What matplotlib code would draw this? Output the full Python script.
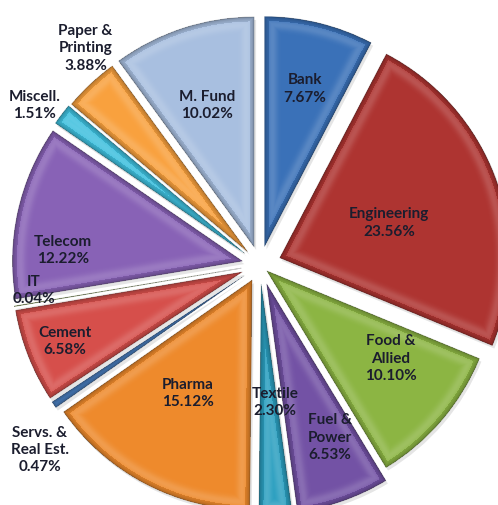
import numpy as np
import matplotlib
matplotlib.use("Agg")
import matplotlib.pyplot as plt

W_PX, H_PX = 498, 505

sectors = ["Bank", "Engineering", "Food &\nAllied", "Fuel &\nPower", "Textile",
           "Pharma", "Servs. &\nReal Est.", "Cement", "IT", "Telecom",
           "Miscell.", "Paper &\nPrinting", "M. Fund"]
shares = [7.67, 23.56, 10.10, 6.53, 2.30, 15.12, 0.47, 6.58, 0.04, 12.22,
          1.51, 3.88, 10.02]
colors = ["#3a71b8", "#ae3431", "#8cb543", "#7352a5", "#2b9fc0",
          "#ee8a2c", "#4a7fc0", "#d64f4b", "#9bbb59", "#8862b6",
          "#3fc0de", "#f9a13e", "#a8bfe0"]

# how far each slice is pulled out (px)
explode = [19, 21, 9, 20, 19, 17, 19, 19, 19, 18, 19, 18, 19]

# label placement: fraction of radius and angle nudge (deg) from wedge middle
label_dist = [0.79, 0.59, 0.70, 0.81, 0.60, 0.64, 1.25, 0.91, 0.99, 0.86,
              1.20, 1.21, 0.73]
label_nudge = [-0.5, -2, 5, 2.6, 2.6, -1.6, 5.9, 0, -3.1, 8.4, 2, -4.2, 0.4]

CX, CY = 260, H_PX - 265
R = 230

fig = plt.figure(figsize=(W_PX / 100, H_PX / 100), dpi=100)
ax = fig.add_axes([0, 0, 1, 1])

wedges, _ = ax.pie(shares, colors=colors, startangle=90, counterclock=False,
                   radius=R, center=(CX, CY), explode=explode,
                   wedgeprops=dict(linewidth=0.6, edgecolor="#00000033"))

# soft drop shadow behind each slice
for w in wedges:
    sh = plt.matplotlib.patches.Wedge((w.center[0] + 2, w.center[1] - 3), w.r,
                                      w.theta1, w.theta2, facecolor="#000000",
                                      alpha=0.10, linewidth=0, zorder=0.5)
    ax.add_patch(sh)

# bevel-like shading: darken close to each slice outline, light band inside
xs = np.arange(W_PX) + 0.5
ys = np.arange(H_PX) + 0.5
X, Y = np.meshgrid(xs, ys)
overlay = np.zeros((H_PX, W_PX, 4))
for w in wedges:
    wx, wy = w.center
    dx, dy = X - wx, Y - wy
    r = np.hypot(dx, dy)
    phi = np.degrees(np.arctan2(dy, dx))
    t1, t2 = w.theta1, w.theta2
    a1 = (phi - t1) % 360
    span = (t2 - t1) % 360 or 360
    inside = (r <= w.r) & (a1 <= span)
    d_arc = w.r - r
    d1 = r * np.sin(np.radians(np.clip(a1, 0, 90)))
    d2 = r * np.sin(np.radians(np.clip(span - a1, 0, 90)))
    d = np.minimum(d_arc, np.minimum(d1, d2))
    dark = 0.30 * np.exp(-np.clip(d, 0, None) / 4.0)
    light = 0.16 * np.exp(-((d - 8) / 5.0) ** 2)
    a = np.where(inside, np.maximum(dark, light), 0)
    rgb = np.where((dark >= light)[..., None], 0.0, 1.0)
    m = inside & (a > overlay[..., 3])
    overlay[m, :3] = rgb[m]
    overlay[m, 3] = a[m]

ax.imshow(overlay, extent=(0, W_PX, 0, H_PX), origin="lower",
          interpolation="bilinear", zorder=3)

for w, name, val, dist, nud in zip(wedges, sectors, shares, label_dist, label_nudge):
    mid = np.radians((w.theta1 + w.theta2) / 2 + nud)
    tx = CX + dist * R * np.cos(mid)
    ty = CY + dist * R * np.sin(mid)
    ax.text(tx, ty, f"{name}\n{val:.2f}%", ha="center", va="center",
            fontsize=11, fontweight="bold", family=["Lato", "DejaVu Sans"],
            color="#1b1d2e", linespacing=1.3, zorder=5)

ax.set_xlim(0, W_PX)
ax.set_ylim(0, H_PX)
ax.set_aspect("equal")
ax.axis("off")

fig.savefig("out.png", dpi=100)
